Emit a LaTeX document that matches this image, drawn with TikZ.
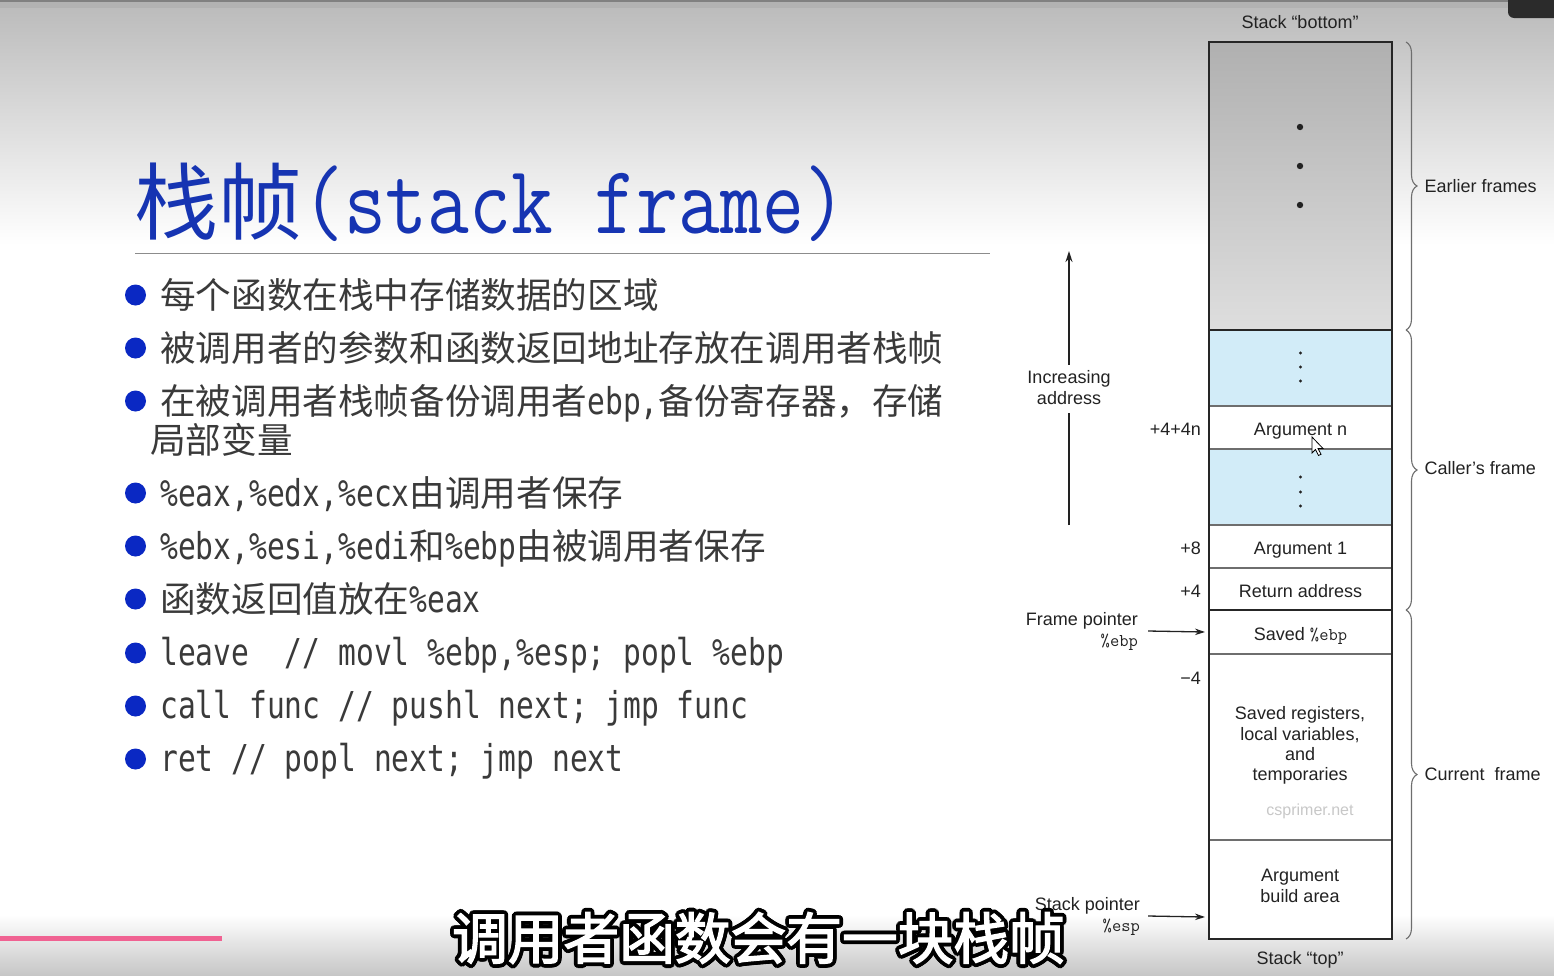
\documentclass[tikz,border=0pt]{standalone}
\usepackage{fontspec}
\usepackage{graphicx}
\setmainfont{Liberation Sans}
\newfontfamily\cjk{Noto Sans CJK SC}
\newfontfamily\cjkbold[FakeBold=2.5]{Noto Sans CJK SC}
\newfontfamily\hwfont{DejaVu Sans Mono}
\usetikzlibrary{arrows.meta,decorations.pathreplacing,calc}
\definecolor{titleblue}{RGB}{22,52,178}
\definecolor{bulblue}{RGB}{10,40,195}
\definecolor{txt}{RGB}{58,58,58}
\definecolor{dtxt}{RGB}{34,34,34}
\definecolor{lblue}{RGB}{210,236,248}
\definecolor{gtop}{RGB}{176,176,176}
\definecolor{gbot}{RGB}{222,222,222}
\definecolor{cline}{RGB}{110,110,110}
\definecolor{frameline}{RGB}{38,38,38}
\definecolor{pinkbar}{RGB}{240,98,146}
\definecolor{bgtop}{RGB}{188,188,188}
\definecolor{bgmid}{RGB}{226,226,226}
\definecolor{bgstrip}{RGB}{178,178,178}
\definecolor{bgline}{RGB}{128,128,128}
\definecolor{bgbot}{RGB}{198,198,198}
\definecolor{rulecol}{RGB}{140,140,140}
\definecolor{wmark}{RGB}{200,200,200}
\definecolor{tabcol}{RGB}{43,43,43}
\newcommand{\hw}[1]{\scalebox{0.8}[1]{\hwfont\fontsize{37}{37}\selectfont #1}}
\newcommand{\dfont}{\fontsize{18}{21}\selectfont}
\newcommand{\subtxt}{调用者函数会有一块栈帧}
\begin{document}
\begin{tikzpicture}[x=1pt,y=-1pt,
  btxt/.style={font=\cjk\fontsize{35.6}{40}\selectfont, text=txt, inner sep=0pt, anchor=base west},
  bullet/.style={circle, fill=bulblue, minimum size=21pt, inner sep=0pt},
  cell/.style={draw=cline, line width=1.6pt, minimum width=183pt, anchor=north west, inner sep=0pt, outer sep=0pt, font=\dfont, text=dtxt, text height=16.5pt, text depth=0pt},
  lbl/.style={font=\dfont, text=dtxt, inner sep=0pt},
  offs/.style={lbl, anchor=east, text height=16.5pt, text depth=0pt},
  arr/.style={-{Stealth[length=10pt,width=6.5pt]}, line width=1.3pt, draw=dtxt},
  br/.style={decorate, decoration={brace, amplitude=11pt}, line width=1.1pt, draw=cline},
  sub/.style={font=\cjkbold\fontsize{55.7}{56}\selectfont, inner sep=0pt},
  dotL/.style={circle, fill=dtxt, minimum size=6.4pt, inner sep=0pt},
  dotS/.style={circle, fill=dtxt, minimum size=3.4pt, inner sep=0pt}
]
\useasboundingbox (0,0) rectangle (1554,975);
% background
\fill[white] (0,0) rectangle (1554,975);
\shade[top color=bgtop, middle color=bgmid, bottom color=white] (0,8) rectangle (1554,245);
\fill[bgstrip] (0,0) rectangle (1554,8);
\fill[bgline] (0,0) rectangle (1554,2);
\shade[top color=white, bottom color=bgbot] (0,915) rectangle (1554,975);
\fill[tabcol, rounded corners=6pt] (1508,-12) rectangle (1570,18);
\fill[pinkbar] (0,935.5) rectangle (222,940.5);

% title
\node[anchor=base west, inner sep=0pt, text=titleblue] (title) at (134,233)
  {{\cjk\fontsize{84}{84}\selectfont 栈帧}\scalebox{0.833}[1]{\fontsize{97.5}{97.5}\selectfont\ttfamily (stack frame)}};
\draw[rulecol, line width=1pt] (135,253) -- (990,253);

% bullets
\node[bullet] (b1) at (135.5,295) {};
\node[btxt] (t1) at (160,308) {每个函数在栈中存储数据的区域};
\node[bullet] (b2) at (135.5,348) {};
\node[btxt] (t2) at (160,361) {被调用者的参数和函数返回地址存放在调用者栈帧};
\node[bullet] (b3) at (135.5,401) {};
\node[btxt] (t3) at (160,414) {在被调用者栈帧备份调用者\hw{ebp,}备份寄存器，存储};
\node[btxt] (t3b) at (150,453) {局部变量};
\node[bullet] (b4) at (135.5,493) {};
\node[btxt] (t4) at (160,506) {\hw{\%eax,\%edx,\%ecx}由调用者保存};
\node[bullet] (b5) at (135.5,546) {};
\node[btxt] (t5) at (160,559) {\hw{\%ebx,\%esi,\%edi}和\hw{\%ebp}由被调用者保存};
\node[bullet] (b6) at (135.5,599) {};
\node[btxt] (t6) at (160,612) {函数返回值放在\hw{\%eax}};
\node[bullet] (b7) at (135.5,653) {};
\node[btxt] (t7) at (160,665) {\hw{leave\ \ //\ movl\ \%ebp,\%esp;\ popl\ \%ebp}};
\node[bullet] (b8) at (135.5,706) {};
\node[btxt] (t8) at (160,718) {\hw{call\ func\ //\ pushl\ next;\ jmp\ func}};
\node[bullet] (b9) at (135.5,759) {};
\node[btxt] (t9) at (160,771) {\hw{ret\ //\ popl\ next;\ jmp\ next}};

% stack diagram
\node[lbl] (sbot) at (1300,22) {Stack “bottom”};
\node[cell, minimum height=288pt, top color=gtop, bottom color=gbot] (earlier) at (1209,42) {};
\node[cell, minimum height=76pt, fill=lblue] (blue1) at (1209,330) {};
\node[cell, minimum height=43pt, fill=white] (argn) at (1209,406) {Argument n};
\node[cell, minimum height=76pt, fill=lblue] (blue2) at (1209,449) {};
\node[cell, minimum height=43pt, fill=white] (arg1) at (1209,525) {Argument 1};
\node[cell, minimum height=42pt, fill=white] (ret) at (1209,568) {Return address};
\node[cell, minimum height=44pt, fill=white] (sebp) at (1209,610) {Saved {\ttfamily\%ebp}};
\node[cell, minimum height=186pt, fill=white] (sregs) at (1209,654) {};
\node[cell, minimum height=99pt, fill=white] (build) at (1209,840) {};
\draw[frameline, line width=2.4pt] (earlier.north west) rectangle (build.south east);
\draw[frameline, line width=2.4pt] (earlier.south west) -- (earlier.south east);
\draw[frameline, line width=2.4pt] (ret.south west) -- (ret.south east);

\node[dotL] (d1) at (1300,127) {};
\node[dotL] (d2) at (1300,166) {};
\node[dotL] (d3) at (1300,205) {};
\node[dotS] (e1) at (1300.5,353) {};
\node[dotS] (e2) at (1300.5,367) {};
\node[dotS] (e3) at (1300.5,381) {};
\node[dotS] (f1) at (1300.5,477) {};
\node[dotS] (f2) at (1300.5,492) {};
\node[dotS] (f3) at (1300.5,506) {};

\node[lbl, align=center, font=\fontsize{18}{20.3}\selectfont] (tregs) at (1300,745.5) {Saved registers,\\local variables,\\and\\temporaries};
\node[lbl, font=\fontsize{16}{16}\selectfont, text=wmark] (wm) at (1310,811) {csprimer.net};
\node[lbl, align=center] (tbuild) at (1300,886) {Argument\\build area};
\node[lbl] (stop) at (1300,960) {Stack “top”};

% offsets
\node[offs] (o1) at ([xshift=-8pt]argn.west) {+4+4n};
\node[offs] (o2) at ([xshift=-8pt]arg1.west) {+8};
\node[offs] (o3) at ([xshift=-8pt]ret.west) {+4};
\node[offs] (o4) at ([shift={(-8,22)}]sregs.north west) {−4};

% pointers
\node[lbl, align=right, anchor=east] (fp) at (1138,631) {Frame pointer\\{\ttfamily\%ebp}};
\draw[arr] ([xshift=10pt]fp.east) -- ([xshift=-4pt]sebp.west);
\node[lbl, align=right, anchor=east] (sp) at (1140,916) {Stack pointer\\{\ttfamily\%esp}};
\coordinate (espT) at (1205,917);
\draw[arr] ([xshift=8pt]sp.east) -- (espT);

% increasing address
\node[lbl, align=center] (inc) at (1069,388) {Increasing\\address};
\coordinate (incB) at (1069,525);
\coordinate (incT) at (1069,251);
\draw[dtxt, line width=1.4pt] (incB) -- ([yshift=-8pt]inc.south);
\draw[-{Stealth[length=11pt,width=7pt]}, dtxt, line width=1.4pt] ([yshift=6pt]inc.north) -- (incT);

% braces
\coordinate (br0) at (1406,42);
\coordinate (br1) at (1406,330);
\coordinate (br2) at (1406,610);
\coordinate (br3) at (1406,939);
\draw[br] (br0) -- node[lbl, midway, anchor=west, xshift=18pt] (lab1) {Earlier frames} (br1);
\draw[br] (br1) -- node[lbl, midway, anchor=west, xshift=18pt, yshift=2pt] (lab2) {Caller’s frame} (br2);
\draw[br] (br2) -- node[lbl, midway, anchor=west, xshift=18pt] (lab3) {Current~ frame} (br3);

% cursor
\filldraw[fill=white, draw=black, line width=0.8pt] (1312,437) -- ++(0,16) -- ++(3.5,-3.5) -- ++(3,6) -- ++(2.5,-1.2) -- ++(-3,-5.8) -- ++(5,0) -- cycle;

% subtitle
\foreach \a [count=\i] in {0,22.5,...,337.5}{
  \node[sub, text=black] (so\i) at ($(758.5,938)+(\a:3.8pt)$) {\subtxt};
}
\node[sub, text=white] (subt) at (758.5,938) {\subtxt};
\end{tikzpicture}
\end{document}
